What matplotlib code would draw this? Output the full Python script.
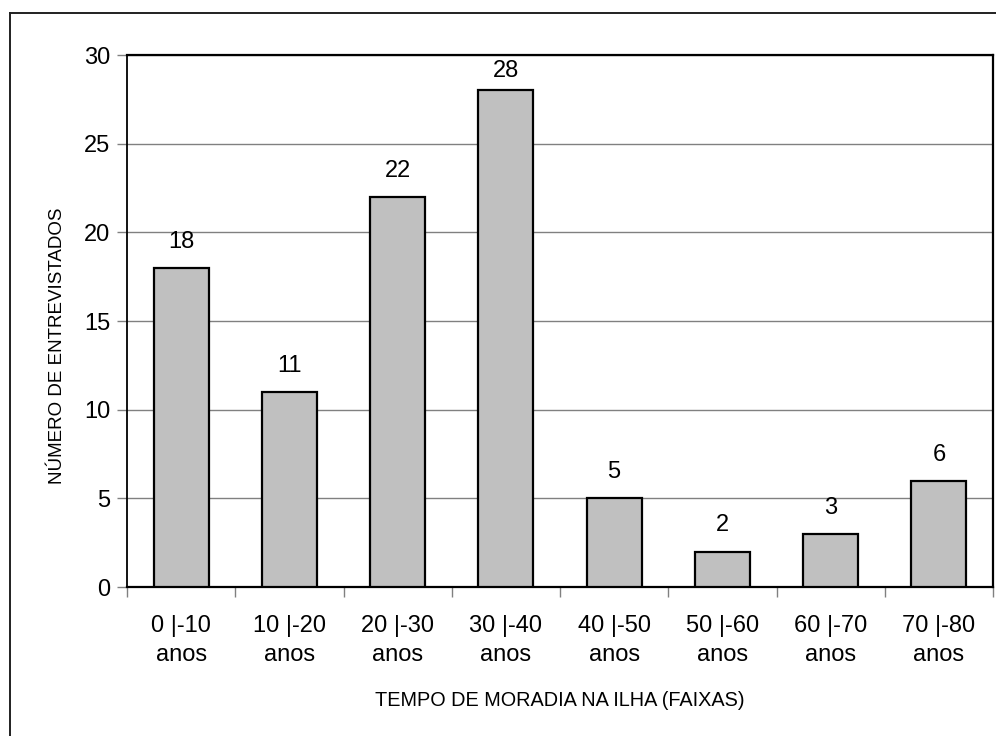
import matplotlib.pyplot as plt
from matplotlib.lines import Line2D

categories = ["0 |-10\nanos", "10 |-20\nanos", "20 |-30\nanos", "30 |-40\nanos",
              "40 |-50\nanos", "50 |-60\nanos", "60 |-70\nanos", "70 |-80\nanos"]
counts = [18, 11, 22, 28, 5, 2, 3, 6]
yticks = [0, 5, 10, 15, 20, 25, 30]

plt.rcParams["font.family"] = ["Liberation Sans", "DejaVu Sans"]

fig = plt.figure(figsize=(9.96, 7.36), dpi=100)
ax = fig.add_axes([127 / 996, 1 - 587 / 736, (993 - 127) / 996, (587 - 55) / 736])

x = list(range(len(counts)))
ax.bar(x, counts, width=0.51, color="#c0c0c0", edgecolor="black", linewidth=1.6, zorder=3)

ymax = 30
for xi, v in zip(x, counts):
    ly = min(v + 0.85, ymax - 1.55)
    ax.text(xi, ly, str(v), ha="center", va="bottom", fontsize=17, zorder=4)

ax.set_xlim(-0.5, len(counts) - 0.5)
ax.set_ylim(0, ymax)
ax.set_yticks(yticks)
ax.set_yticklabels([str(t) for t in yticks], fontsize=17)
ax.yaxis.grid(True, color="#808080", linewidth=1.0, zorder=0)
ax.tick_params(axis="y", length=7, width=1, color="#808080", pad=5)

ax.set_xticks([i + 0.5 for i in range(-1, len(counts))])
ax.set_xticklabels([""] * (len(counts) + 1))
ax.set_xticks(x, minor=True)
ax.set_xticklabels(categories, minor=True, fontsize=17, linespacing=1.45)
ax.tick_params(axis="x", which="major", length=7, width=1, color="#808080")
ax.tick_params(axis="x", which="minor", length=0, pad=20)

for s in ax.spines.values():
    s.set_color("black")
    s.set_linewidth(1.6)
ax.spines["left"].set_linewidth(1.3)

ax.set_xlabel("TEMPO DE MORADIA NA ILHA (FAIXAS)", fontsize=14.3, va="center")
ax.xaxis.set_label_coords(0.5, -(701 - 587) / 532)
ax.set_ylabel("NÚMERO DE ENTREVISTADOS", fontsize=13.5, va="center")
ax.yaxis.set_label_coords(-(127 - 58) / 866, (587 - 346) / 532)

# outer frame (open at right and bottom edges)
fig.add_artist(Line2D([9.5 / 996, 9.5 / 996], [0, 1 - 13 / 736], color="#202020", linewidth=1.4))
fig.add_artist(Line2D([9.5 / 996, 1], [1 - 13 / 736, 1 - 13 / 736], color="#202020", linewidth=1.4))

fig.savefig("out.png", dpi=100)
